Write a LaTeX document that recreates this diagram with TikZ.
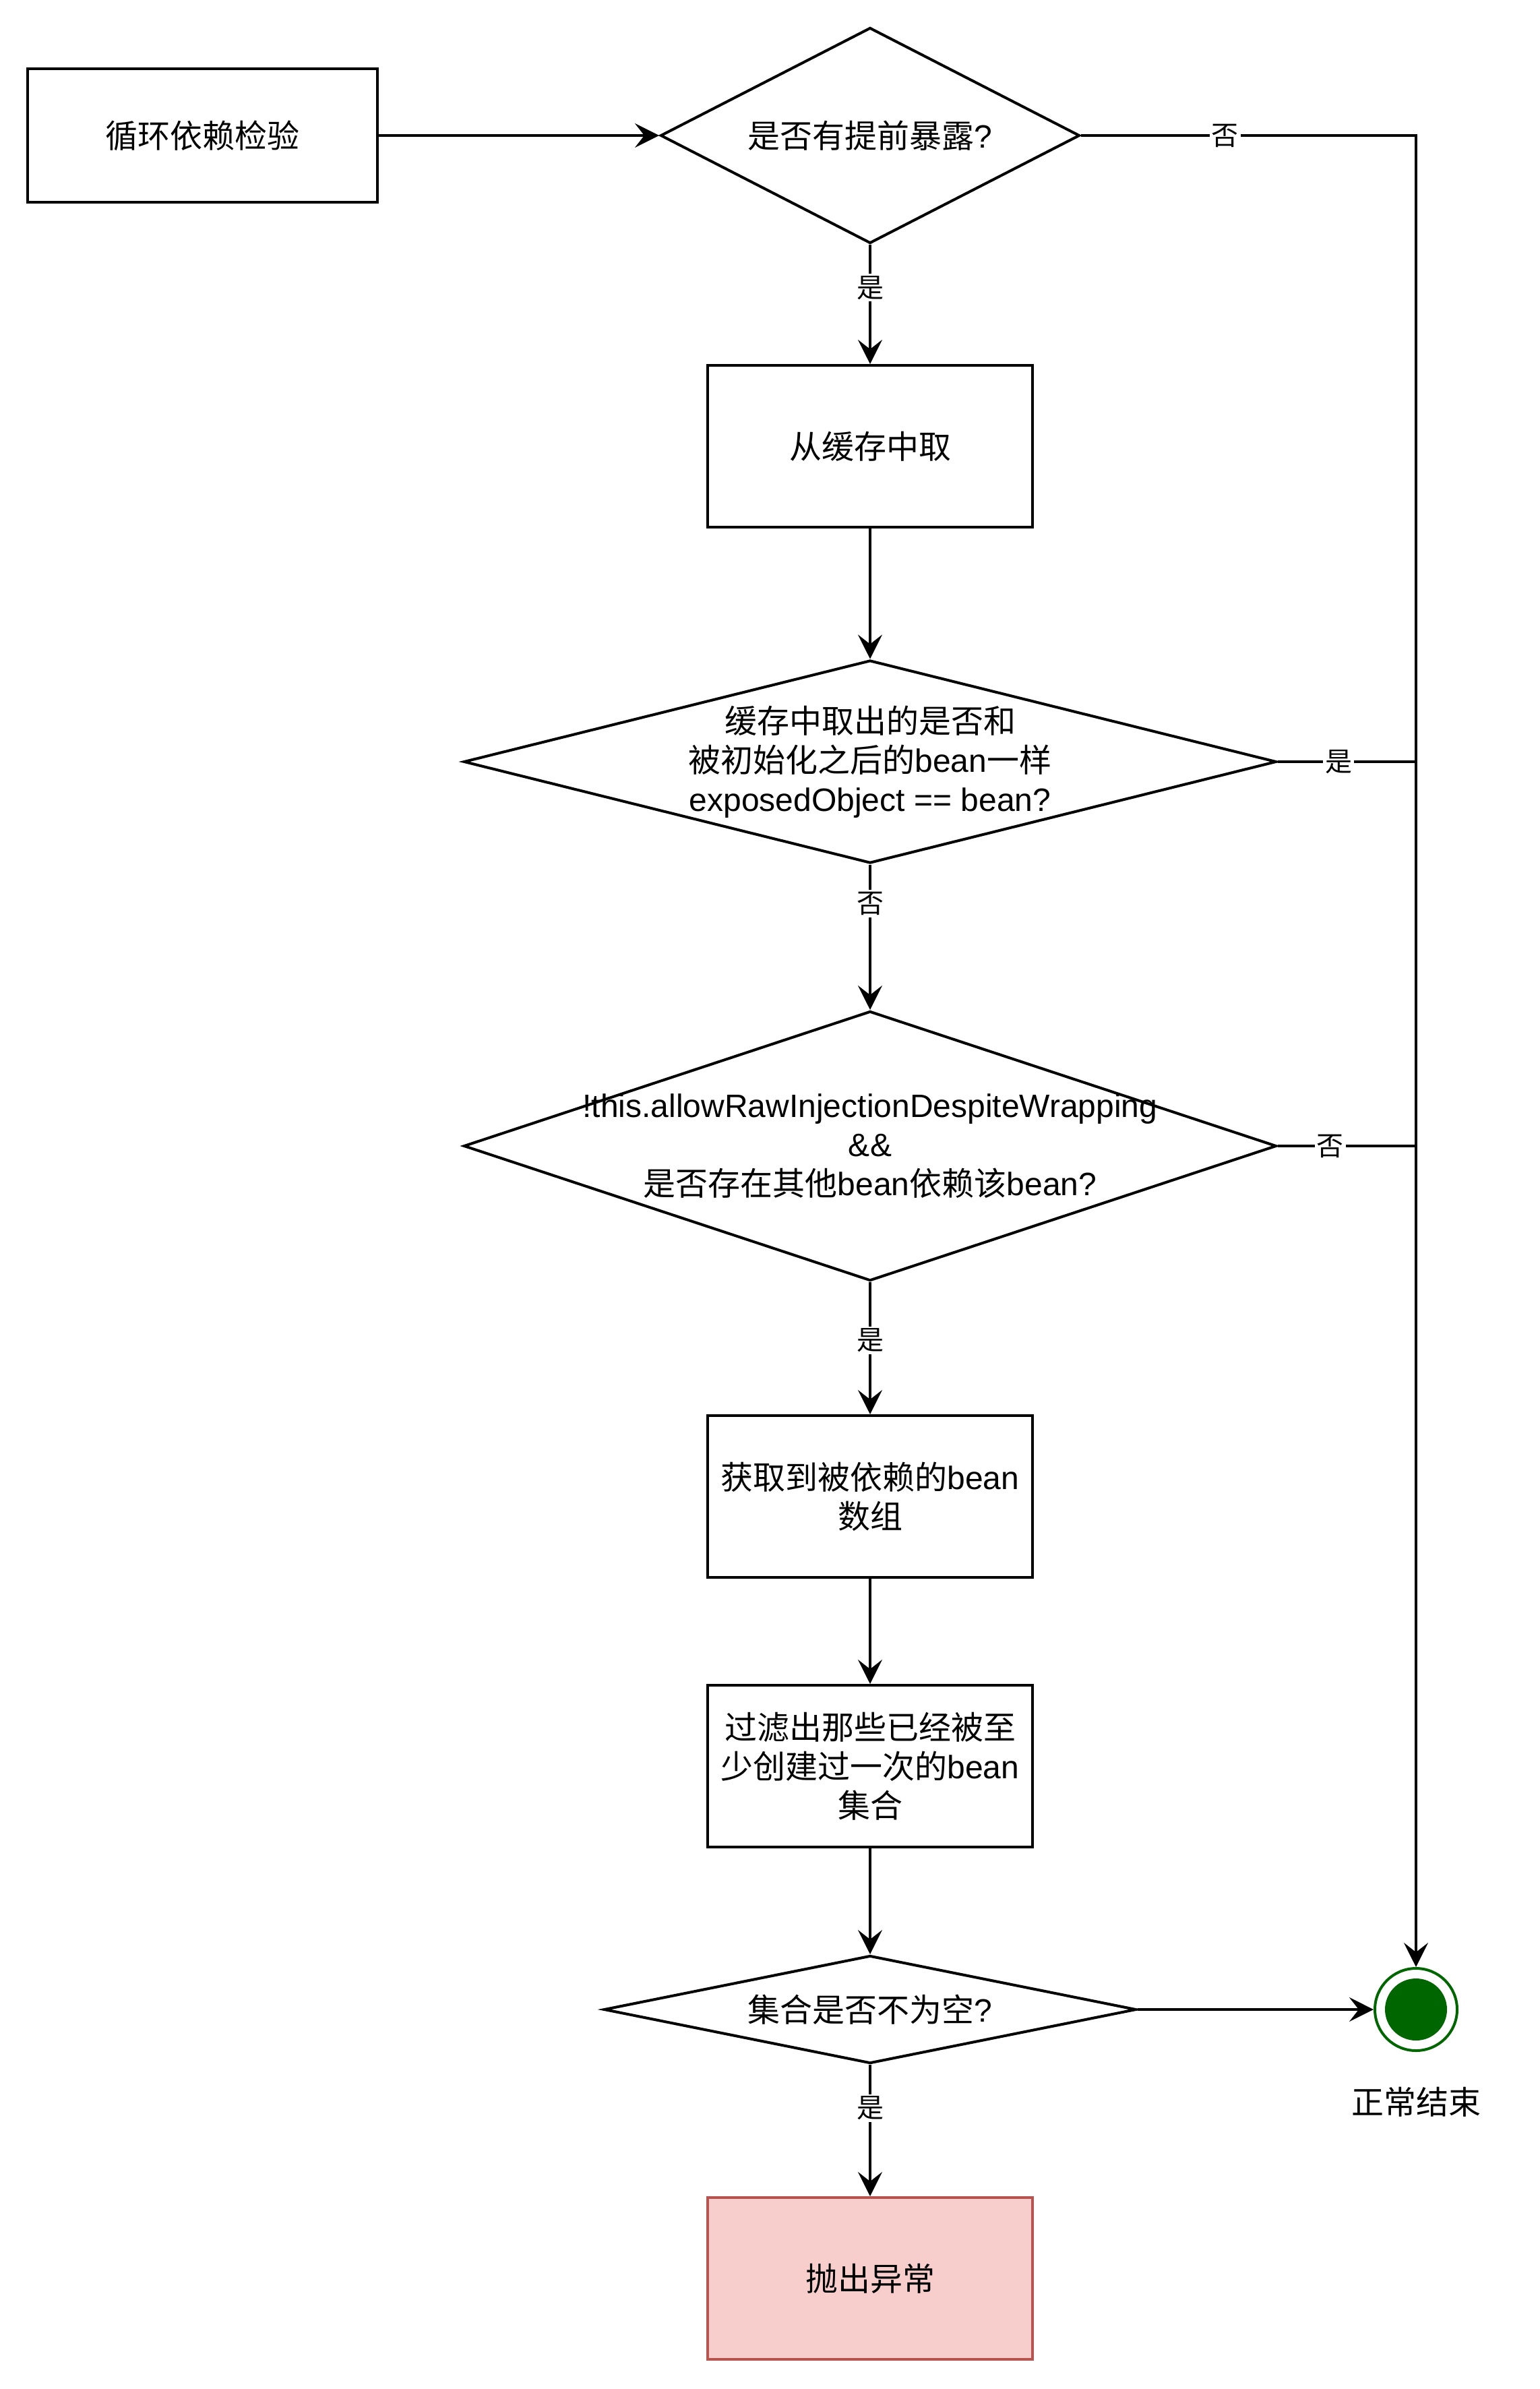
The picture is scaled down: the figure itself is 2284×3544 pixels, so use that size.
\documentclass[tikz,border=0pt]{standalone}
\usepackage{fontspec}
\setmainfont{Liberation Sans}
\newfontfamily\cjk{Noto Sans CJK SC}
\newcommand\zh[1]{{\cjk #1}}
\usetikzlibrary{shapes.geometric,arrows.meta}
\begin{document}
\begin{tikzpicture}[x=1pt,y=-1pt,
  every node/.style={font=\fontsize{48}{58}\selectfont},
  conn/.style={line width=4pt},
  arr/.style={line width=4pt,-{Stealth[length=36pt,width=36pt,inset=14pt]}},
  boxn/.style={draw,line width=4pt,rectangle,minimum width=482pt,minimum height=240pt,align=center,inner sep=0pt},
  dia/.style={draw,line width=4pt,diamond,inner sep=0pt},
  lbl/.style={fill=white,inner sep=3pt,font=\fontsize{40}{48}\selectfont\cjk}
]
\useasboundingbox (0,0) rectangle (2284,3544);

\node[boxn,minimum width=519pt,minimum height=198pt] (b1) at (300,201) {\zh{循环依赖检验}};
\node[dia,minimum width=622pt,minimum height=320pt,label={[align=center]center:\zh{是否有提前暴露}?}] (d1) at (1291,201) {};
\node[boxn] (b2) at (1291,662) {\zh{从缓存中取}};
\node[dia,minimum width=1206pt,minimum height=301pt,label={[align=center]center:\zh{缓存中取出的是否和}\\\zh{被初始化之后的}bean\zh{一样}\\exposedObject == bean?}] (d2) at (1291,1130) {};
\node[dia,minimum width=1206pt,minimum height=400pt,label={[align=center]center:!this.allowRawInjectionDespiteWrapping\\\&\&\\\zh{是否存在其他}bean\zh{依赖该}bean?}] (d3) at (1291,1700) {};
\node[boxn] (b3) at (1291,2220) {\zh{获取到被依赖的}bean\\\zh{数组}};
\node[boxn] (b4) at (1291,2620) {\zh{过滤出那些已经被至}\\\zh{少创建过一次的}bean\\\zh{集合}};
\node[dia,minimum width=790pt,minimum height=160pt,label={[align=center]center:\zh{集合是否不为空}?}] (d4) at (1291,2981) {};
\node[boxn,fill={rgb,255:red,248;green,206;blue,204},draw={rgb,255:red,184;green,84;blue,80}] (b5) at (1291,3380) {\zh{抛出异常}};

\definecolor{endgreen}{RGB}{0,102,0}
\node[circle,draw=endgreen,line width=4pt,fill=white,minimum size=122pt,inner sep=0pt] (endc) at (2101,2981) {};
\node[circle,fill=endgreen,minimum size=92pt,inner sep=0pt] (endin) at (endc.center) {};
\node (endl) at (2101,3118) {\zh{正常结束}};

\coordinate (j1) at (2101,201);
\coordinate (j2) at (2101,1130);
\coordinate (j3) at (2101,1700);

\draw[arr] (b1.east) -- (d1.west);
\draw[arr] (d1.east) -- node[lbl,pos=0.43]{否} (j1) -- (endc.north);
\draw[conn] (d2.east) -- node[lbl,pos=0.44]{是} (j2);
\draw[conn] (d3.east) -- node[lbl,pos=0.38]{否} (j3);
\draw[arr] (d1.south) -- node[lbl,pos=0.36]{是} (b2.north);
\draw[arr] (b2.south) -- (d2.north);
\draw[arr] (d2.south) -- node[lbl,pos=0.27]{否} (d3.north);
\draw[arr] (d3.south) -- node[lbl,pos=0.44]{是} (b3.north);
\draw[arr] (b3.south) -- (b4.north);
\draw[arr] (b4.south) -- (d4.north);
\draw[arr] (d4.east) -- (endc.west);
\draw[arr] (d4.south) -- node[lbl,pos=0.33]{是} (b5.north);
\end{tikzpicture}
\end{document}
